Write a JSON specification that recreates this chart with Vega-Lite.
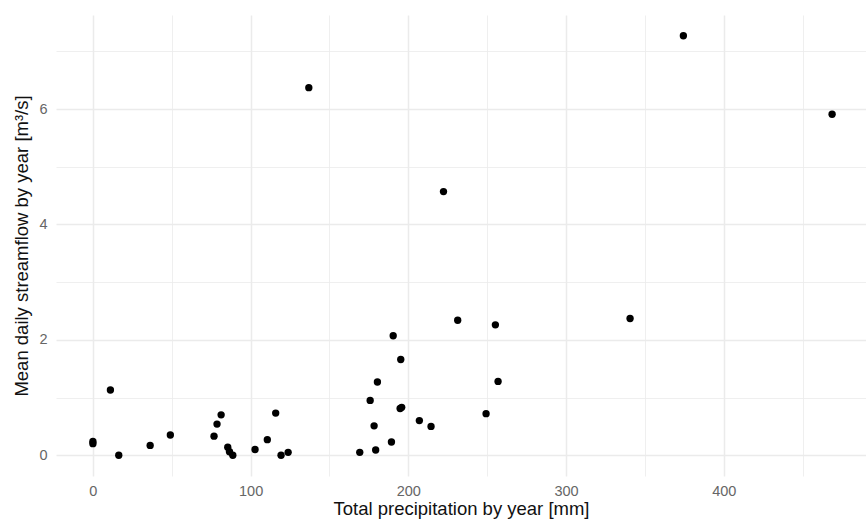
{
  "$schema": "https://vega.github.io/schema/vega-lite/v6.json",
  "autosize": {"type": "none"},
  "padding": {"left": 56, "top": 15, "right": 0, "bottom": 51},
  "width": 810,
  "height": 461,
  "background": "white",
  "config": {
    "view": {"stroke": null},
    "font": "Liberation Sans",
    "axis": {"domain": false, "ticks": false, "gridColor": "#EBEBEB"}
  },
  "data": {
    "values": [
      {"precip": 0, "flow": 0.20},
      {"precip": 0, "flow": 0.24},
      {"precip": 11.1, "flow": 1.13},
      {"precip": 16.4, "flow": 0.0},
      {"precip": 36.3, "flow": 0.17},
      {"precip": 49.1, "flow": 0.35},
      {"precip": 76.8, "flow": 0.33},
      {"precip": 78.7, "flow": 0.54},
      {"precip": 81.3, "flow": 0.70},
      {"precip": 85.5, "flow": 0.14},
      {"precip": 86.6, "flow": 0.06},
      {"precip": 88.7, "flow": 0.0},
      {"precip": 102.8, "flow": 0.10},
      {"precip": 110.6, "flow": 0.27},
      {"precip": 115.9, "flow": 0.73},
      {"precip": 119.3, "flow": 0.0},
      {"precip": 123.8, "flow": 0.05},
      {"precip": 136.9, "flow": 6.37},
      {"precip": 169.2, "flow": 0.05},
      {"precip": 175.8, "flow": 0.95},
      {"precip": 178.3, "flow": 0.51},
      {"precip": 179.3, "flow": 0.09},
      {"precip": 180.4, "flow": 1.27},
      {"precip": 189.3, "flow": 0.23},
      {"precip": 190.4, "flow": 2.07},
      {"precip": 194.8, "flow": 0.81},
      {"precip": 195.8, "flow": 0.83},
      {"precip": 195.2, "flow": 1.66},
      {"precip": 207.0, "flow": 0.60},
      {"precip": 214.4, "flow": 0.50},
      {"precip": 222.3, "flow": 4.57},
      {"precip": 231.3, "flow": 2.34},
      {"precip": 249.3, "flow": 0.72},
      {"precip": 255.2, "flow": 2.26},
      {"precip": 256.9, "flow": 1.28},
      {"precip": 340.6, "flow": 2.37},
      {"precip": 374.4, "flow": 7.27},
      {"precip": 468.7, "flow": 5.91}
    ]
  },
  "layer": [
    {
      "mark": {"type": "point", "opacity": 0},
      "encoding": {
        "x": {
          "field": "precip", "type": "quantitative",
          "scale": {"domain": [-23.4, 490.2], "nice": false, "zero": false},
          "axis": {"orient": "bottom", "values": [50, 150, 250, 350, 450], "labels": false, "title": null, "grid": true, "gridWidth": 0.8}
        },
        "y": {
          "field": "flow", "type": "quantitative",
          "scale": {"domain": [-0.36, 7.63], "nice": false, "zero": false},
          "axis": {"orient": "left", "values": [1, 3, 5, 7], "labels": false, "title": null, "grid": true, "gridWidth": 0.8}
        }
      }
    },
    {
      "mark": {"type": "circle", "color": "black", "opacity": 1, "size": 54},
      "encoding": {
        "x": {
          "field": "precip", "type": "quantitative",
          "scale": {"domain": [-23.4, 490.2], "nice": false, "zero": false},
          "axis": {
            "orient": "bottom", "values": [0, 100, 200, 300, 400], "grid": true, "gridWidth": 1.5,
            "title": "Total precipitation by year [mm]",
            "labelFontSize": 14.5, "labelColor": "#666666", "labelPadding": 8,
            "titleFontSize": 18.5, "titleFontWeight": "normal", "titleColor": "#111111", "titlePadding": 2
          }
        },
        "y": {
          "field": "flow", "type": "quantitative",
          "scale": {"domain": [-0.36, 7.63], "nice": false, "zero": false},
          "axis": {
            "orient": "left", "values": [0, 2, 4, 6], "grid": true, "gridWidth": 1.5,
            "title": "Mean daily streamflow by year [m³/s]",
            "labelFontSize": 14.5, "labelColor": "#666666", "labelPadding": 9,
            "titleFontSize": 18.5, "titleFontWeight": "normal", "titleColor": "#111111", "titlePadding": 7
          }
        }
      }
    }
  ],
  "resolve": {"axis": {"x": "independent", "y": "independent"}}
}
